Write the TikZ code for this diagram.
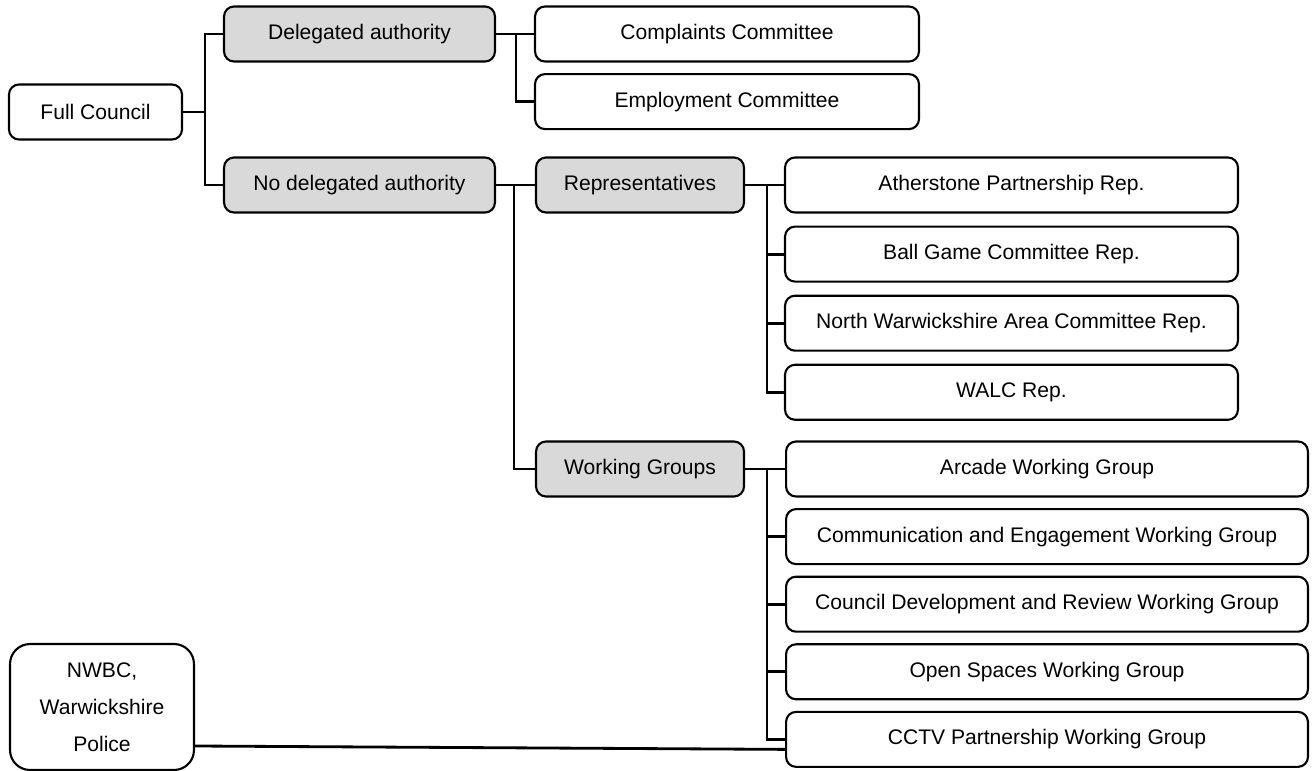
\documentclass[tikz,border=0pt]{standalone}
\usepackage{fontspec}
\setmainfont{Liberation Sans}
\usepackage{xcolor}
\usepackage{tikz}
\usetikzlibrary{positioning}
\definecolor{boxgray}{HTML}{D9D9D9}
\tikzstyle{box} = [rectangle, draw, line width=1.2pt, rounded corners=0.2cm,
    minimum height=1.1cm, align=center, inner sep=0pt]
\tikzstyle{gbox} = [box, fill=boxgray]
\tikzstyle{line} = [draw, line width=1.6pt]
\tikzset{
    every node/.style={font=\fontsize{12}{14.4}\selectfont}
}
\begin{document}
\begin{tikzpicture}[x=0.02cm,y=-0.02cm]
            \useasboundingbox (0,0) rectangle (1313,771);
            % Council
            \node [box, minimum width=3.46cm] (full) at (95.5,112) {Full Council};

            % Authority
            \node [gbox, minimum width=5.42cm] (del) at (359.5,34) {Delegated authority};
            \node [gbox, minimum width=5.42cm] (nodel) at (359.5,185) {No delegated authority};

            % Committees
            \node [box, minimum width=7.68cm] (compl) at (727,34) {Complaints Committee};
            \node [box, minimum width=7.68cm] (employ) [below=0.21cm of compl] {Employment Committee};

            % Groupings
            \node [gbox, minimum width=4.16cm] (rep) at (640,185) {Representatives};
            \node [gbox, minimum width=4.16cm] (wg) at (640,469) {Working Groups};

            % Representatives
            \node [box, minimum width=9.06cm] (ath) at (1011.5,185) {Atherstone Partnership Rep.};
            \node [box, minimum width=9.06cm] (ball) [below=0.24cm of ath] {Ball Game Committee Rep.};
            \node [box, minimum width=9.06cm] (nwac) [below=0.24cm of ball] {North Warwickshire Area Committee Rep.};
            \node [box, minimum width=9.06cm] (walc) [below=0.24cm of nwac] {WALC Rep.};

            % Working groups
            \node [box, minimum width=10.44cm] (arcade) at (1047,469) {Arcade Working Group};
            \node [box, minimum width=10.44cm] (comm) [below=0.21cm of arcade] {Communication and Engagement Working Group};
            \node [box, minimum width=10.44cm] (cdr) [below=0.21cm of comm] {Council Development and Review Working Group};
            \node [box, minimum width=10.44cm] (open) [below=0.21cm of cdr] {Open Spaces Working Group};
            \node [box, minimum width=10.44cm] (cctv) [below=0.21cm of open] {CCTV Partnership Working Group};

            % Partners
            \node [box, minimum width=3.68cm, minimum height=2.52cm, rounded corners=0.4cm,
                   font=\fontsize{12}{21}\selectfont] (nwbc) at (102,707) {NWBC,\\Warwickshire\\Police};

            % Connect everything
            \path [line] (full.east) -- ++(22,0) |- (del.west);
            \path [line] (full.east) -- ++(22,0) |- (nodel.west);
            \path [line] (del.east) -- ++(20,0) |- (compl.west);
            \path [line] (del.east) -- ++(20,0) |- (employ.west);
            \path [line] (nodel.east) -- (rep.west);
            \path [line] (nodel.east) ++(18,0) |- (wg.west);
            \foreach \n in {ath,ball,nwac,walc}
                \path [line] (rep.east) -- ++(22,0) |- (\n.west);
            \foreach \n in {arcade,comm,cdr,open,cctv}
                \path [line] (wg.east) -- ++(22,0) |- (\n.west);
            \path [line] ([yshift=-0.78cm]nwbc.east) -- ([yshift=-0.2cm]cctv.west);
        \end{tikzpicture}
\end{document}
